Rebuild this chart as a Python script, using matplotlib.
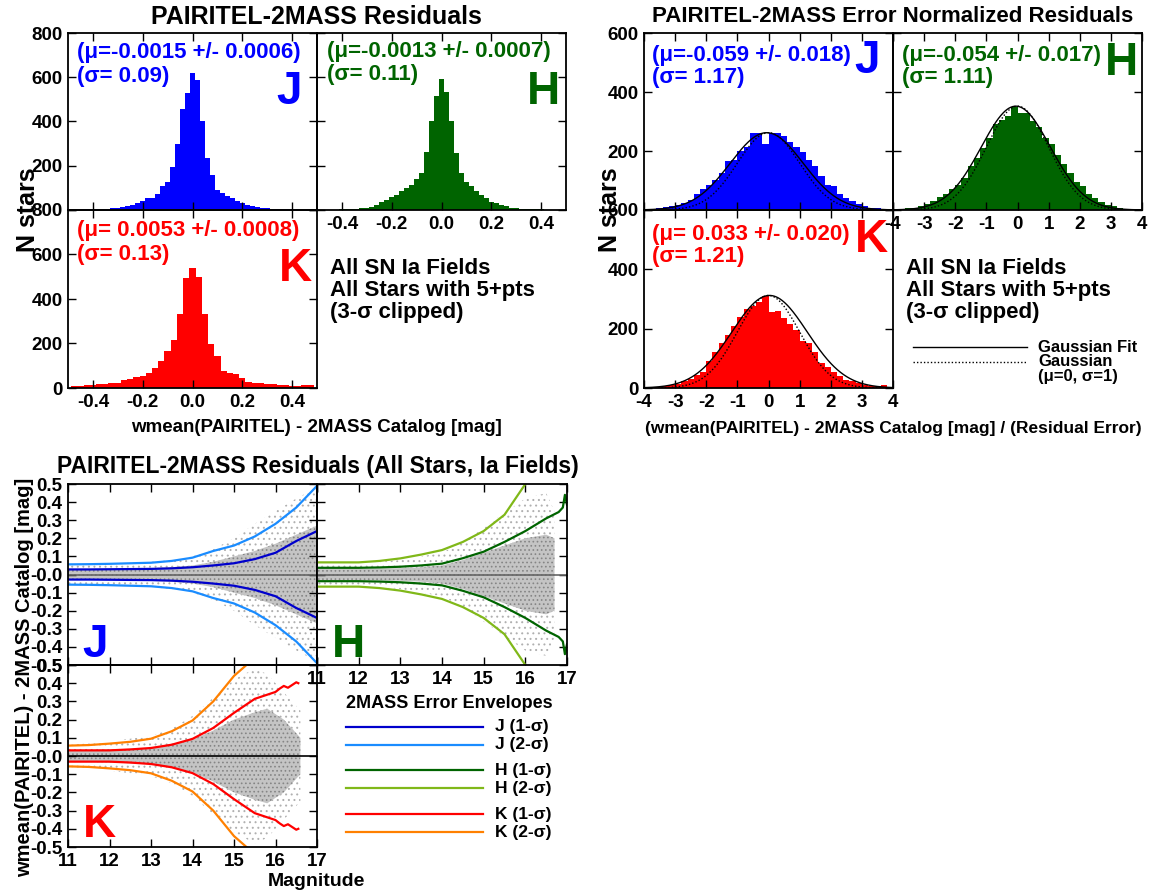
import numpy as np
import matplotlib
matplotlib.use("Agg")
import matplotlib.pyplot as plt

plt.rcParams['font.family'] = ['Liberation Sans', 'DejaVu Sans']
plt.rcParams['font.weight'] = 'bold'
plt.rcParams['axes.unicode_minus'] = False
plt.rcParams['hatch.linewidth'] = 0.7

W, H = 1156, 896

# ---- top-left: residual histograms (bin width 0.02, centred on 0) ----
res_centers = np.round(np.arange(-0.48, 0.481, 0.02), 3)
res_j = [2, 2, 3, 3, 4, 4, 5, 6, 7, 9, 12, 16, 22, 30, 42, 56, 56, 72, 110, 128,
         193, 297, 456, 531, 617, 586, 403, 237, 158, 91, 76, 64, 53, 41, 32, 22,
         16, 12, 9, 8, 6, 5, 4, 4, 3, 3, 2, 2, 2]
res_h = [1, 1, 2, 2, 3, 3, 4, 5, 7, 9, 14, 22, 35, 45, 60, 68, 84, 98, 114, 141,
         169, 261, 403, 516, 594, 534, 400, 257, 169, 128, 108, 84, 68, 53, 38, 33,
         22, 16, 11, 8, 6, 5, 4, 3, 3, 2, 2, 1, 1]
res_k_centers = np.round(np.arange(-19, 20) * 0.025, 4)
res_k = [10, 10, 12, 14, 16, 18, 21, 24, 36, 42, 48, 54, 66, 91, 121, 166, 216, 331,
         493, 538, 498, 331, 198, 145, 76, 69, 63, 43, 25, 22, 22, 20, 20, 15, 12,
         10, 10, 14, 14]

# ---- top-right: error-normalised histograms (bin width 0.2) ----
norm_centers = np.round(np.arange(-3.9, 3.91, 0.2), 2)
norm_j = [3, 5, 8, 10, 12, 18, 25, 35, 55, 70, 85, 100, 125, 165, 170, 200, 215, 262,
          262, 225, 262, 262, 250, 230, 215, 195, 170, 150, 115, 85, 80, 55, 40, 30,
          20, 12, 8, 6, 4, 3]
norm_h = [3, 4, 6, 8, 12, 20, 30, 45, 55, 70, 85, 110, 150, 175, 210, 245, 290, 305,
          320, 350, 330, 330, 300, 280, 245, 225, 185, 155, 125, 95, 80, 55, 42, 28,
          18, 12, 8, 5, 4, 3]
norm_k = [2, 3, 4, 6, 10, 15, 22, 30, 45, 55, 90, 120, 150, 180, 210, 240, 265, 275,
          290, 310, 256, 260, 235, 215, 195, 160, 150, 120, 85, 70, 55, 40, 28, 22,
          16, 10, 8, 6, 10, 5]
fit_mu = [-0.059, -0.054, 0.033]
fit_sigma = [1.17, 1.11, 1.21]
fit_peak = [262, 352, 312]

# ---- bottom: error envelopes vs magnitude ----
env_mag = [11, 11.5, 12, 12.5, 13, 13.5, 14, 14.5, 15, 15.5, 16, 16.5, 17]
j_1sig = [0.028, 0.028, 0.029, 0.030, 0.031, 0.034, 0.040, 0.050, 0.062, 0.085, 0.12, 0.185, 0.24]
j_2sig = [0.056, 0.057, 0.059, 0.062, 0.065, 0.075, 0.093, 0.13, 0.16, 0.21, 0.28, 0.37, 0.49]
h_mag = [11, 11.5, 12, 12.5, 13, 13.5, 14, 14.5, 15, 15.5, 16, 16.5, 16.8, 16.9, 16.95, 17]
h_1sig = [0.037, 0.037, 0.037, 0.039, 0.043, 0.050, 0.060, 0.090, 0.126, 0.18, 0.24, 0.31,
          0.345, 0.37, 0.44, 0.385]
h2_mag = [11, 11.5, 12, 12.5, 13, 13.5, 14, 14.5, 15, 15.5, 16]
h_2sig = [0.067, 0.067, 0.067, 0.075, 0.089, 0.11, 0.135, 0.18, 0.24, 0.33, 0.50]
k_mag = [11, 11.5, 12, 12.5, 13, 13.5, 14, 14.5, 15, 15.5, 16, 16.1, 16.2, 16.3, 16.4, 16.5, 16.55]
k_1sig = [0.031, 0.031, 0.031, 0.036, 0.044, 0.062, 0.094, 0.154, 0.237, 0.314, 0.352,
          0.37, 0.385, 0.375, 0.39, 0.405, 0.40]
k2_mag = [11, 11.5, 12, 12.5, 13, 13.5, 14, 14.5, 15, 15.3]
k_2sig = [0.057, 0.060, 0.068, 0.078, 0.095, 0.136, 0.195, 0.30, 0.44, 0.50]

# approximate extent of the star cloud (half-widths), dense core and sparse halo
cloud_mag = [11, 12, 13, 13.5, 14, 14.5, 15, 15.5, 16, 16.5, 17]
j_core = [0.03, 0.03, 0.035, 0.04, 0.05, 0.07, 0.10, 0.13, 0.17, 0.22, 0.27]
j_halo = [0.06, 0.06, 0.07, 0.08, 0.10, 0.14, 0.20, 0.28, 0.35, 0.42, 0.48]
hc_mag = [11, 12, 13, 13.5, 14, 14.5, 15, 15.5, 16, 16.5, 16.7]
h_core = [0.03, 0.03, 0.035, 0.04, 0.05, 0.08, 0.12, 0.16, 0.20, 0.22, 0.20]
h_halo = [0.06, 0.06, 0.08, 0.10, 0.12, 0.18, 0.26, 0.34, 0.42, 0.45, 0.35]
kc_mag = [11, 12, 13, 13.5, 14, 14.5, 15, 15.5, 15.8, 16.2, 16.6]
k_core = [0.03, 0.035, 0.045, 0.06, 0.09, 0.14, 0.20, 0.24, 0.26, 0.20, 0.10]
k_halo = [0.06, 0.08, 0.11, 0.15, 0.22, 0.32, 0.42, 0.48, 0.45, 0.35, 0.25]

BLUE, GREEN, RED = '#0000ff', '#006400', '#ff0000'
LBLUE, LGREEN, ORANGE, DBLUE = '#1a8cff', '#80b819', '#ff8000', '#0000cc'


def box(l, t, r, b):
    return [l / W, 1 - b / H, (r - l) / W, (b - t) / H]


def style(ax):
    ax.set_facecolor('none')
    ax.tick_params(direction='in', top=True, right=True, length=6, width=1,
                   labelsize=13.5, pad=4)
    for s in ax.spines.values():
        s.set_linewidth(1.3)


fig = plt.figure(figsize=(W / 100, H / 100), dpi=100)
# overlay in pixel coordinates for annotations and hand-made legends
lax = fig.add_axes([0, 0, 1, 1], facecolor='none', zorder=5)
lax.set_axis_off()
lax.set_xlim(0, W)
lax.set_ylim(H, 0)


def note(x, y, s, col, size=16, ha='left'):
    lax.text(x, y, s, ha=ha, va='baseline', color=col, fontsize=size)


# ================= top-left =================
boxes = [box(68, 33, 317, 210), box(317, 33, 566, 210), box(68, 210, 317, 388)]
data = [(res_centers, res_j, 0.02, BLUE), (res_centers, res_h, 0.02, GREEN),
        (res_k_centers, res_k, 0.025, RED)]
for i, (b, (c, v, bw, col)) in enumerate(zip(boxes, data)):
    ax = fig.add_axes(b)
    ax.bar(c, v, width=bw, color=col, linewidth=0)
    ax.set_xlim(-0.5, 0.5)
    ax.set_ylim(0, 800)
    ax.set_xticks([-0.4, -0.2, 0.0, 0.2, 0.4])
    ax.set_yticks([0, 200, 400, 600, 800])
    style(ax)
    if i == 0:
        ax.set_xticklabels([])
        ax.set_yticklabels(['', '200', '400', '600', '800'])
    elif i == 1:
        ax.set_yticklabels([])
        ax.set_xticklabels(['-0.4', '-0.2', '0.0', '0.2', '0.4'])
    else:
        ax.set_xticklabels(['-0.4', '-0.2', '0.0', '0.2', '0.4'])

note(77, 58, "(μ=-0.0015 +/- 0.0006)", BLUE)
note(77, 82, "(σ= 0.09)", BLUE)
note(302, 104, "J", BLUE, 33, 'right')
note(327, 57, "(μ=-0.0013 +/- 0.0007)", GREEN)
note(327, 80, "(σ= 0.11)", GREEN)
note(560, 104, "H", GREEN, 33, 'right')
note(77, 236, "(μ= 0.0053 +/- 0.0008)", RED)
note(77, 260, "(σ= 0.13)", RED)
note(312, 281, "K", RED, 33, 'right')

lax.text(316, 17, "PAIRITEL-2MASS Residuals", ha='center', va='center', fontsize=18)
lax.text(28, 210, "N stars", ha='center', va='center', rotation=90, fontsize=18)
lax.text(316, 428, "wmean(PAIRITEL) - 2MASS Catalog [mag]", ha='center',
         va='center', fontsize=13.5)
for y, s in zip([274, 296, 318], ["All SN Ia Fields", "All Stars with 5+pts", "(3-σ clipped)"]):
    note(330, y, s, 'black', 16)

# ================= top-right =================
boxes = [box(644, 33, 893, 210), box(893, 33, 1142, 210), box(644, 210, 893, 388)]
data = [(norm_j, BLUE), (norm_h, GREEN), (norm_k, RED)]
xx = np.linspace(-4, 4, 400)
for i, (b, (v, col)) in enumerate(zip(boxes, data)):
    ax = fig.add_axes(b)
    ax.bar(norm_centers, v, width=0.2, color=col, linewidth=0)
    ax.plot(xx, fit_peak[i] * np.exp(-0.5 * ((xx - fit_mu[i]) / fit_sigma[i]) ** 2),
            color='black', lw=1)
    ax.plot(xx, fit_peak[i] * np.exp(-0.5 * xx ** 2), color='black', lw=1,
            ls=(0, (1, 1.5)))
    ax.set_xlim(-4, 4)
    ax.set_ylim(0, 600)
    ax.set_xticks(range(-4, 5))
    ax.set_yticks([0, 200, 400, 600])
    style(ax)
    if i == 0:
        ax.set_xticklabels([])
        ax.set_yticklabels(['', '200', '400', '600'])
    elif i == 1:
        ax.set_yticklabels([])

note(652, 61, "(μ=-0.059 +/- 0.018)", BLUE)
note(652, 83, "(σ= 1.17)", BLUE)
note(880, 73, "J", BLUE, 33, 'right')
note(902, 61, "(μ=-0.054 +/- 0.017)", GREEN)
note(902, 83, "(σ= 1.11)", GREEN)
note(1138, 75, "H", GREEN, 33, 'right')
note(652, 240, "(μ= 0.033 +/- 0.020)", RED)
note(652, 262, "(σ= 1.21)", RED)
note(888, 252, "K", RED, 33, 'right')

lax.text(893, 17, "PAIRITEL-2MASS Error Normalized Residuals", ha='center',
         va='center', fontsize=16)
lax.text(610, 210, "N stars", ha='center', va='center', rotation=90, fontsize=18)
lax.text(893, 428, "(wmean(PAIRITEL) - 2MASS Catalog [mag] / (Residual Error)",
         ha='center', va='center', fontsize=12.5)
for y, s in zip([274, 296, 318], ["All SN Ia Fields", "All Stars with 5+pts", "(3-σ clipped)"]):
    note(906, y, s, 'black', 16)
lax.plot([913, 1027], [347, 347], color='black', lw=1)
lax.plot([913, 1027], [362, 362], color='black', lw=1, ls=(0, (1, 1.5)))
note(1038, 352, "Gaussian Fit", 'black', 12)
note(1038, 366, "Gaussian", 'black', 12)
note(1038, 381, "(μ=0, σ=1)", 'black', 12)

# ================= bottom scatter =================
boxes = [box(68, 484, 317, 665), box(317, 484, 567, 665), box(68, 665, 317, 847)]
clouds = [(cloud_mag, j_core, j_halo), (hc_mag, h_core, h_halo), (kc_mag, k_core, k_halo)]
envs = [((env_mag, j_1sig, DBLUE), (env_mag, j_2sig, LBLUE)),
        ((h_mag, h_1sig, GREEN), (h2_mag, h_2sig, LGREEN)),
        ((k_mag, k_1sig, RED), (k2_mag, k_2sig, ORANGE))]
yt = np.round(np.arange(-0.5, 0.51, 0.1), 1)
for i, (b, (cm, core, halo), env) in enumerate(zip(boxes, clouds, envs)):
    ax = fig.add_axes(b)
    cm = np.array(cm)
    core = np.array(core)
    halo = np.array(halo)
    ax.fill_between(cm, -halo, halo, facecolor='none', edgecolor='#b0b0b0',
                    hatch='...', linewidth=0)
    ax.fill_between(cm, -core, core, facecolor='#c4c4c4', edgecolor='#858585',
                    hatch='....', linewidth=0)
    ax.axhline(0, color='#666666' if i < 2 else 'black', lw=1.2)
    for m, s, c in env:
        m = np.array(m)
        s = np.array(s)
        ax.plot(m, s, color=c, lw=1.6)
        ax.plot(m, -s, color=c, lw=1.6)
    ax.set_xlim(11, 17)
    ax.set_ylim(-0.5, 0.5)
    ax.set_xticks(range(11, 18))
    ax.set_yticks(yt)
    style(ax)
    if i == 0:
        ax.set_xticklabels([])
        ax.set_yticklabels(['%.1f' % t for t in yt])
    elif i == 1:
        ax.set_yticklabels([])
    else:
        ax.set_yticklabels(['%.1f' % t for t in yt])

note(82, 657, "J", BLUE, 33)
note(332, 657, "H", GREEN, 33)
note(83, 837, "K", RED, 33)

lax.text(318, 467, "PAIRITEL-2MASS Residuals (All Stars, Ia Fields)",
         ha='center', va='center', fontsize=16.5)
lax.text(25, 677, "wmean(PAIRITEL) - 2MASS Catalog [mag]", ha='center',
         va='center', rotation=90, fontsize=14.5)
lax.text(316, 882, "Magnitude", ha='center', va='center', fontsize=14)

lax.text(346, 703, "2MASS Error Envelopes", ha='left', va='center', fontsize=13)
leg_items = [("J (1-σ)", DBLUE, 727), ("J (2-σ)", LBLUE, 745),
             ("H (1-σ)", GREEN, 770), ("H (2-σ)", LGREEN, 788),
             ("K (1-σ)", RED, 814), ("K (2-σ)", ORANGE, 832)]
for lab, c, y in leg_items:
    lax.plot([346, 483], [y, y], color=c, lw=1.6)
    lax.text(495, y, lab, ha='left', va='center', fontsize=12.5)

fig.savefig("out.png", dpi=100)
